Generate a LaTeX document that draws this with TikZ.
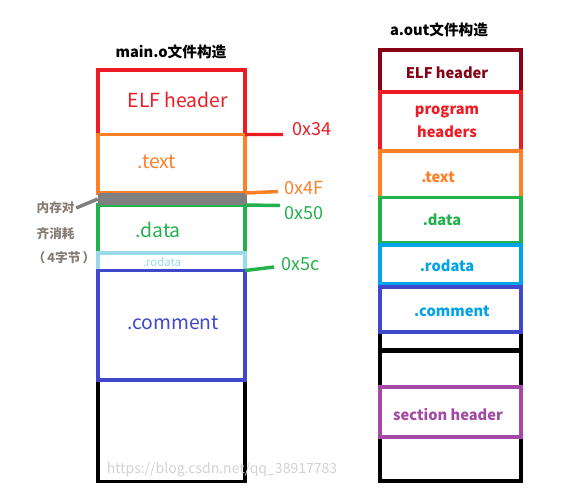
\documentclass[tikz,border=0pt]{standalone}
\usepackage{fontspec}
\setmainfont{Noto Sans CJK SC}
\usetikzlibrary{positioning}
\tikzset{>=latex}
\definecolor{elf red}{HTML}{ED1C24}
\definecolor{dark red}{HTML}{880015}
\definecolor{text orange}{HTML}{FF7F27}
\definecolor{data green}{HTML}{22B14C}
\definecolor{ro blue}{HTML}{99D9EA}
\definecolor{ro turq}{HTML}{00A2E8}
\definecolor{cm indigo}{HTML}{3F48CC}
\definecolor{sh purple}{HTML}{A349A4}
\definecolor{pad gray}{HTML}{7F7F7F}
\definecolor{note gray}{HTML}{857D75}
\tikzset{
  sect/.style={draw, line width=2.6pt, inner sep=0pt, outer sep=0pt, minimum width=110.25pt},
  asect/.style={draw, line width=2.5pt, inner sep=0pt, outer sep=0pt, minimum width=105.75pt},
  lbig/.style={font=\fontsize{14.5}{17}\selectfont},
  asm/.style={font=\bfseries\fontsize{11}{17}\selectfont, align=center},
  hex/.style={font=\fontsize{13.5}{16}\selectfont, anchor=west, inner sep=0pt},
  ttl/.style={font=\bfseries\fontsize{11}{13}\selectfont},
  note/.style={note gray, font=\bfseries\fontsize{9.5}{11}\selectfont, anchor=west, inner sep=1pt},
  lead/.style={line width=2.6pt}
}
\begin{document}
\begin{tikzpicture}[x=0.75pt, y=-0.75pt]
  \useasboundingbox (0,0) rectangle (563,492);

  % main.o
  \node[ttl] (mtitle) at (171,52) {main.o文件构造};
  \node[sect, elf red, minimum height=48.4pt] (elf) at (171.5,102.25) {};
  \node[sect, text orange, minimum height=43.9pt] (text) at (171.5,163.75) {};
  \node[sect, data green, minimum height=36pt] (data) at (171.5,229) {};
  \node[sect, ro blue, minimum height=13.1pt] (rodata) at (171.5,261.75) {};
  \node[sect, black, minimum height=76.1pt] (blank) at (171.5,430.75) {};
  \node[sect, cm indigo, minimum height=82.1pt] (comment) at (171.5,325.25) {};
  \node[fill=pad gray, inner sep=0pt, minimum width=111.75pt, minimum height=9pt] (padbar) at (172.5,199) {};

  \node[lbig, elf red] (elflbl) at (178,100) {ELF header};
  \node[lbig, text orange] (textlbl) at (157,162) {.text};
  \node[lbig, data green] (datalbl) at (158,230) {.data};
  \node[ro blue, font=\fontsize{8.5}{10}\selectfont] (rolbl) at (162,262) {.rodata};
  \node[lbig, cm indigo] (cmlbl) at (173,323) {.comment};

  % offsets
  \node[hex, elf red] (h34) at (292,129) {0x34};
  \node[hex, text orange] (h4f) at (284,188) {0x4F};
  \node[hex, data green] (h50) at (284,213) {0x50};
  \node[hex, data green] (h5c) at (281,264) {0x5c};
  \coordinate (e34) at (283,134.5);
  \coordinate (e4f) at (278,191.5);
  \coordinate (e50) at (280,205.5);
  \coordinate (e5c) at (274,267);
  \draw[lead, elf red] (elf.south east) -- (e34);
  \draw[lead, text orange] (text.south east) -- (e4f);
  \draw[lead, data green] (data.north east) -- (e50);
  \draw[lead, data green] (comment.north east) -- (e5c);

  % alignment note
  \node[note] (mem1) at (35,208) {内存对};
  \node[note] (mem2) at (35,234) {齐消耗};
  \node[note] (mem3) at (31,258) {（\,4字节\,）};
  \draw[lead, pad gray] (mem1.east) -- (padbar.west);

  % a.out
  \node[ttl] (atitle) at (439,30) {a.out文件构造};
  \node[asect, dark red, minimum height=31.5pt] (aelf) at (450.5,71) {};
  \node[asect, elf red, minimum height=44.25pt] (aph) at (450.5,121.5) {};
  \node[asect, text orange, minimum height=34.9pt] (atext) at (450.5,174.25) {};
  \node[asect, data green, minimum height=34.1pt] (adata) at (450.5,220.25) {};
  \node[asect, ro turq, minimum height=29.25pt] (arodata) at (450.5,264.5) {};
  \node[asect, black, minimum height=13.5pt] (ablank) at (450.5,341) {};
  \node[asect, black, minimum height=97.5pt] (atail) at (450.5,416) {};
  \node[asect, cm indigo, minimum height=33.75pt] (acomment) at (450.5,309.5) {};
  \node[asect, sh purple, minimum height=37.5pt] (asec) at (450.5,412) {};

  \node[asm, dark red] (aelflbl) at (447,73) {ELF header};
  \node[asm, elf red] (aphlbl) at (447,121.5) {program\\headers};
  \node[asm, text orange] (atextlbl) at (438,177) {.text};
  \node[asm, data green] (adatalbl) at (442,220) {.data};
  \node[asm, ro turq] (arolbl) at (447,266) {.rodata};
  \node[asm, ro turq] (acmlbl) at (452,311) {.comment};
  \node[asm, sh purple] (aseclbl) at (448,415) {section header};

  \node[gray!35, font=\fontsize{10.5}{12}\selectfont] (wm) at (222,470) {https://blog.csdn.net/qq\_38917783};
\end{tikzpicture}
\end{document}
